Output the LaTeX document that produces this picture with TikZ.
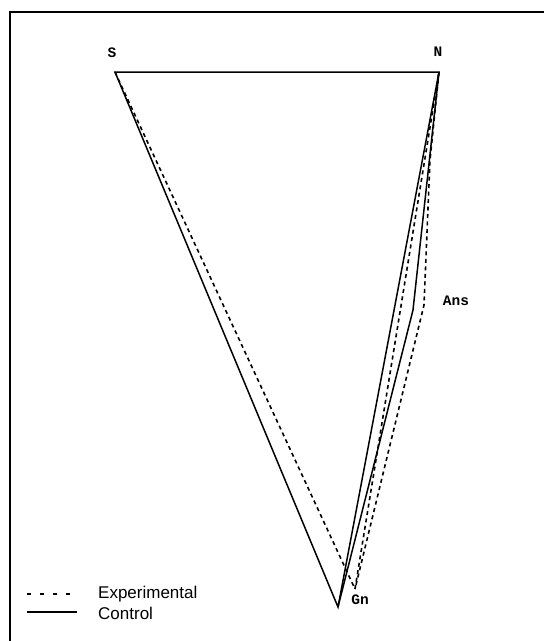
\documentclass[tikz,border=0pt]{standalone}
\usepackage{fontspec}
\setmainfont{Liberation Sans}
\setmonofont{Liberation Mono}
\usetikzlibrary{positioning}
\tikzset{
  ctrl/.style={line width=1.5pt,draw=black,line join=miter},
  expt/.style={line width=1.6pt,draw=black,dash pattern=on 4pt off 3.5pt},
  lmk/.style={font=\ttfamily\bfseries\fontsize{14.5}{14.5}\selectfont,inner sep=1pt},
  leg/.style={font=\fontsize{17}{17}\selectfont,anchor=west,inner sep=0pt},
  frame/.style={line width=1.8pt},
}

\begin{document}
\begin{tikzpicture}[x=1pt,y=-1pt]
  \useasboundingbox (0,0) rectangle (544,641);
  % frame
  \coordinate (fbot) at (10,641);
  \coordinate (fcor) at (10,12);
  \coordinate (fend) at (544,12);
  \draw[frame] (fbot) -- (fcor) -- (fend);
  % landmarks
  \coordinate (S) at (115,72);
  \coordinate (N) at (439,72);
  \coordinate (GnC) at (338,607);
  \coordinate (AnsC) at (413,310);
  \coordinate (GnE) at (355,589);
  \coordinate (AnsE) at (424,305);
  \coordinate (midE) at (430,160);
  \node[lmk] (s) at (112,53) {S};
  \node[lmk] (n) at (438,52) {N};
  \node[lmk] (ans) at (456,301) {Ans};
  \node[lmk] (gn) at (360,600) {Gn};
  % control
  \draw[ctrl] (S) -- (N) -- (GnC) -- cycle;
  \draw[ctrl] (N) -- (AnsC) -- (GnC);
  % experimental
  \draw[expt] (S) -- (GnE) -- (N);
  \draw[expt] (N) -- (midE) -- (AnsE) -- (GnE);
  % legend
  \coordinate (le1) at (27,594);
  \coordinate (le2) at (72,594);
  \coordinate (lc1) at (27,612);
  \coordinate (lc2) at (77,612);
  \draw[expt,line width=1.3pt,dash pattern=on 4pt off 9pt] (le1) -- (le2);
  \draw[ctrl] (lc1) -- (lc2);
  \node[leg] (exptxt) at (98,594) {Experimental};
  \node[leg] (ctrltxt) at (98,613) {Control};
\end{tikzpicture}
\end{document}
